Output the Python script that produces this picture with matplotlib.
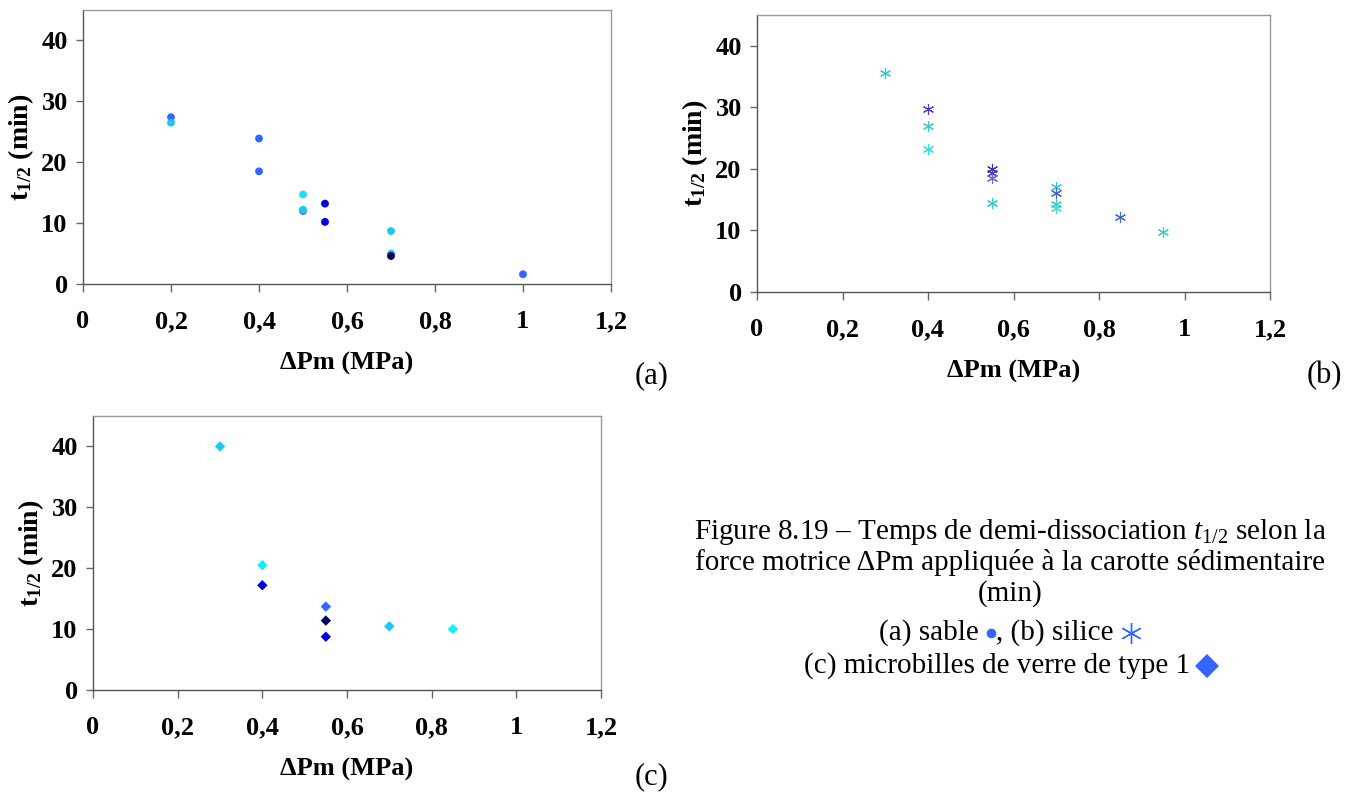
import matplotlib
matplotlib.use("Agg")
import matplotlib.pyplot as plt
from matplotlib.lines import Line2D

plt.rcParams['font.family'] = ['Liberation Serif', 'DejaVu Serif']
plt.rcParams['mathtext.fontset'] = 'custom'
plt.rcParams['mathtext.rm'] = 'Liberation Serif'
plt.rcParams['mathtext.bf'] = 'Liberation Serif:bold'
plt.rcParams['mathtext.it'] = 'Liberation Serif:italic'

# ---- data ----
# (a) sable
a_x = [0.2, 0.2, 0.4, 0.4, 0.5, 0.5, 0.5, 0.55, 0.55, 0.7, 0.7, 0.7, 1.0]
a_y = [27.4, 26.5, 23.9, 18.5, 14.7, 12.0, 12.2, 13.2, 10.2, 8.7, 5.0, 4.6, 1.6]
a_c = ['#3366ff', '#1ec8f5', '#3366ff', '#3366ff', '#22ddff', '#3366ff', '#1ec8f5',
       '#0000e6', '#0000e6', '#1ec8f5', '#1ec8f5', '#00005e', '#3366ff']

# (b) silice
b_x = [0.3, 0.4, 0.4, 0.4, 0.55, 0.55, 0.55, 0.55, 0.7, 0.7, 0.7, 0.7, 0.85, 0.95]
b_y = [35.6, 29.7, 27.0, 23.2, 20.0, 19.3, 18.5, 14.4, 17.0, 16.1, 14.3, 13.6, 12.2, 9.7]
b_c = ['#33cccc', '#5533cc', '#33cccc', '#33dddd', '#333399', '#4433bb', '#6666cc',
       '#33cccc', '#33cccc', '#4466cc', '#33cccc', '#33dddd', '#4466cc', '#33cccc']

# (c) microbilles de verre de type 1
c_x = [0.3, 0.4, 0.4, 0.55, 0.55, 0.55, 0.7, 0.85]
c_y = [40.0, 20.5, 17.2, 13.7, 11.4, 8.75, 10.45, 10.0]
c_c = ['#1ec8f5', '#11eeff', '#0000e6', '#3366ff', '#00005e', '#0000e6', '#1ec8f5', '#11eeff']

x_ticks = [0, 0.2, 0.4, 0.6, 0.8, 1.0, 1.2]
x_labels = ['0', '0,2', '0,4', '0,6', '0,8', '1', '1,2']
y_ticks = [0, 10, 20, 30, 40]
y_labels = ['0', '10', '20', '30', '40']

W, H = 1356, 792
fig = plt.figure(figsize=(W / 100, H / 100), dpi=100)

TICK_FS = 19
LAB_FS = 19
CAP_FS = 21


def px_axes(l, r, t, b):
    return fig.add_axes([l / W, 1 - b / H, (r - l) / W, (b - t) / H])


def style(ax):
    ax.set_xlim(0, 1.2)
    ax.set_ylim(0, 45)
    ax.set_xticks(x_ticks)
    ax.set_xticklabels(x_labels, fontweight='bold', fontsize=TICK_FS)
    ax.set_yticks(y_ticks)
    ax.set_yticklabels(y_labels, fontweight='bold', fontsize=TICK_FS)
    for s in ['top', 'right']:
        ax.spines[s].set_color('#999999')
        ax.spines[s].set_linewidth(1.0)
    for s in ['left', 'bottom']:
        ax.spines[s].set_color('#555555')
        ax.spines[s].set_linewidth(1.0)
    ax.tick_params(axis='x', direction='out', length=6, width=1, color='#666666', pad=13)
    ax.tick_params(axis='y', direction='out', length=5, width=1, color='#666666', pad=6)
    ax.set_xlabel('ΔPm (MPa)', fontweight='bold', fontsize=LAB_FS, labelpad=13)
    ax.set_ylabel(r'$\mathbf{t_{1/2}}$ (min)', fontweight='bold', fontsize=20, labelpad=4)


axa = px_axes(83, 611, 10, 284)
axa.scatter(a_x, a_y, c=a_c, marker='o', s=32, linewidths=0, zorder=3)
style(axa)

axb = px_axes(757, 1270, 15, 292)
for x, y, c in zip(b_x, b_y, b_c):
    axb.plot([x], [y], marker=(6, 2, 0), markersize=8, markeredgewidth=0.8,
             color=c, linestyle='none', zorder=3)
style(axb)

axc = px_axes(93, 601, 416, 690)
axc.scatter(c_x, c_y, c=c_c, marker='D', s=28, linewidths=0, zorder=3)
style(axc)

fig.text(652 / W, 1 - 376 / H, '(a)', fontsize=22, ha='center', va='center')
fig.text(1324 / W, 1 - 376 / H, '(b)', fontsize=22, ha='center', va='center')
fig.text(652 / W, 1 - 777 / H, '(c)', fontsize=22, ha='center', va='center')

cx = 1010 / W
fig.text(cx, 1 - 532 / H, r'Figure 8.19 – Temps de demi-dissociation $\mathit{t_{1/2}}$ selon la',
         fontsize=CAP_FS, ha='center', va='center')
fig.text(cx, 1 - 563 / H, 'force motrice ΔPm appliquée à la carotte sédimentaire',
         fontsize=CAP_FS, ha='center', va='center')
fig.text(cx, 1 - 594 / H, '(min)', fontsize=CAP_FS, ha='center', va='center')

# caption lines with marker symbols
fig.canvas.draw()
renderer = fig.canvas.get_renderer()


def caption_line(parts, ypix):
    widths = []
    for kind, val in parts:
        if kind == 'text':
            t = fig.text(0, 0, val, fontsize=CAP_FS, va='center', ha='left')
            w = t.get_window_extent(renderer).width
            t.remove()
            widths.append(w)
        else:
            widths.append(val[2])
    total = sum(widths)
    x = 1010 - total / 2
    for (kind, val), w in zip(parts, widths):
        if kind == 'text':
            fig.text(x / W, 1 - ypix / H, val, fontsize=CAP_FS, va='center', ha='left')
        else:
            m, ms, gap = val
            kw = dict(marker=m, markersize=ms, color='#3366ff', linestyle='none')
            kw['markeredgewidth'] = 1.0 if m == (6, 2, 0) else 0
            fig.add_artist(Line2D([(x + gap / 2) / W], [1 - ypix / H],
                                  transform=fig.transFigure, **kw))
        x += w


caption_line([('text', '(a) sable '), ('marker', ('o', 7, 10)), ('text', ', (b) silice '),
              ('marker', ((6, 2, 0), 15, 20))], 633)
caption_line([('text', '(c) microbilles de verre de type 1 '), ('marker', ('D', 12, 18))], 666)

fig.savefig('out.png', dpi=100)
